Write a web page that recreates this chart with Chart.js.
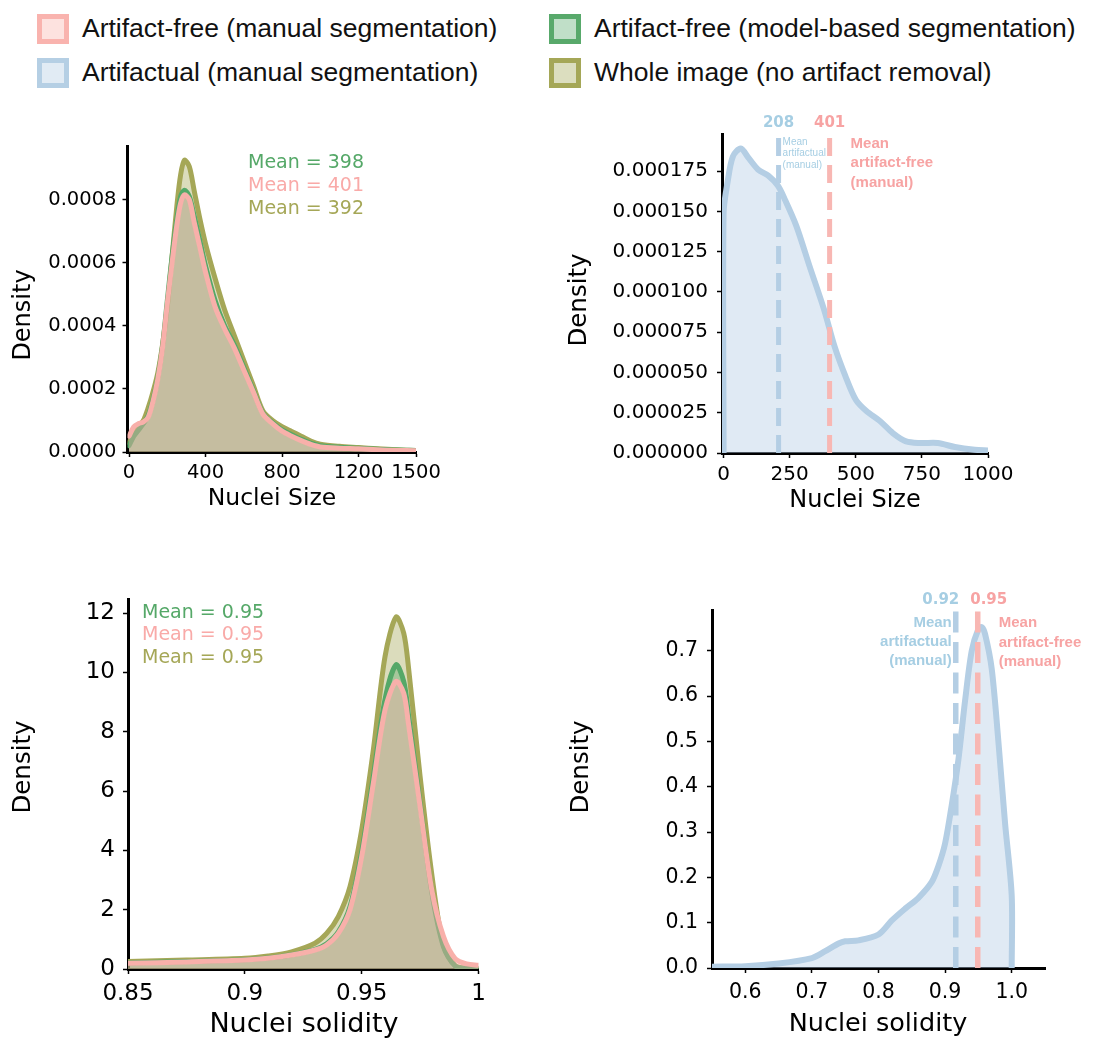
<!DOCTYPE html>
<html>
<head>
<meta charset="utf-8">
<script src="https://cdn.jsdelivr.net/npm/chart.js@4.4.1/dist/chart.umd.min.js"></script>
<style>
  body { margin: 0; background: #fff; }
  #page { position: relative; width: 1105px; height: 1039px; overflow: hidden; background: #fff; }
  canvas { position: absolute; }
  .leg { position: absolute; font-family: "Liberation Sans", Arial, sans-serif; font-size: 26.5px; color: #111; white-space: nowrap; line-height: 30px; }
  .patch { position: absolute; width: 32px; height: 30px; box-sizing: border-box; border: 5px solid; }
</style>
</head>
<body>
<div id="page">
  <canvas id="c1" width="552" height="440" style="left:0;top:100px;width:552px;height:440px"></canvas>
  <canvas id="c2" width="553" height="440" style="left:552px;top:100px;width:553px;height:440px"></canvas>
  <canvas id="c3" width="552" height="479" style="left:0;top:560px;width:552px;height:479px"></canvas>
  <canvas id="c4" width="553" height="479" style="left:552px;top:560px;width:553px;height:479px"></canvas>
</div>
<script>
// nuclei size, artifact-free / whole image densities
const sizeX = [0, 25, 50, 75, 100, 125, 150, 175, 200, 225, 250, 270, 290, 315, 340, 370, 400, 450, 500, 550, 600, 650, 700, 750, 800, 850, 900, 950, 1000, 1100, 1200, 1300, 1400, 1500];
const sizeManual = [0.00005, 0.00008, 0.00009, 0.000095, 0.00011, 0.00016, 0.00023, 0.00033, 0.00047, 0.0006, 0.00072, 0.00079, 0.000815, 0.0008, 0.00073, 0.00065, 0.00057, 0.00046, 0.00039, 0.00033, 0.00026, 0.00019, 0.00012, 0.00009, 0.000066, 0.00005, 0.000036, 0.000024, 0.000016, 0.000012, 0.00001, 0.000007, 0.000005, 0.000004];
const sizeModel = [0.00002, 0.00005, 0.00007, 0.00009, 0.000115, 0.000165, 0.000235, 0.000335, 0.00048, 0.00062, 0.00074, 0.00081, 0.00083, 0.00081, 0.00075, 0.00067, 0.00059, 0.00048, 0.0004, 0.00034, 0.000268, 0.000195, 0.000123, 0.000093, 0.00007, 0.000055, 0.00004, 0.000028, 0.00002, 0.000015, 0.000012, 0.000009, 0.000006, 0.000005];
const sizeWhole = [0.00003, 0.00006, 0.00008, 0.0001, 0.00014, 0.00019, 0.00025, 0.00034, 0.00046, 0.00062, 0.00078, 0.00088, 0.000925, 0.000905, 0.00083, 0.00074, 0.00066, 0.00055, 0.00045, 0.00037, 0.00029, 0.00021, 0.00013, 0.0001, 0.00008, 0.000065, 0.00005, 0.000035, 0.000025, 0.000018, 0.000014, 0.00001, 0.000007, 0.000005];
const sizeMeans = [401, 398, 392]; // manual, model-based, whole image

// nuclei size, artifactual
const sizeArtX = [0, 0, 15, 35, 65, 95, 130, 170, 205, 230, 275, 325, 380, 420, 460, 500, 540, 590, 640, 690, 745, 810, 875, 950, 1000];
const sizeArtifactual = [0, 0.000149, 0.000168, 0.000184, 0.000189, 0.000183, 0.000176, 0.000172, 0.000166, 0.000158, 0.000141, 0.000116, 0.000089, 0.000066, 0.000048, 0.000033, 0.000026, 0.00002, 0.0000124, 0.0000072, 0.0000062, 0.0000062, 0.0000037, 0.000002, 0.0000015];
const sizeArtMeans = [208, 401]; // artifactual, artifact-free

// nuclei solidity, artifact-free / whole image densities
const solX = [0.85, 0.875, 0.9, 0.91, 0.92, 0.93, 0.935, 0.94, 0.945, 0.95, 0.955, 0.96, 0.9647, 0.968, 0.97, 0.975, 0.98, 0.985, 0.99, 0.995, 1.0];
const solManual = [0.19, 0.24, 0.3, 0.36, 0.47, 0.64, 0.81, 1.2, 2.0, 3.79, 6.27, 8.74, 9.7, 9.3, 8.29, 5.48, 2.67, 1.1, 0.35, 0.17, 0.13];
const solModel = [0.2, 0.25, 0.31, 0.37, 0.48, 0.66, 0.85, 1.25, 2.1, 3.95, 6.5, 9.1, 10.26, 9.7, 8.6, 5.6, 2.6, 0.75, 0.1, 0.02, 0];
const solWhole = [0.25, 0.3, 0.36, 0.44, 0.58, 0.87, 1.2, 1.77, 2.78, 4.69, 7.39, 10.54, 11.87, 11.33, 10.2, 6.5, 3.2, 0.8, 0.12, 0.02, 0];
const solMeans = [0.95, 0.95, 0.95];

// nuclei solidity, artifactual
const solArtX = [0.55, 0.6, 0.65, 0.7, 0.72, 0.74, 0.75, 0.77, 0.8, 0.82, 0.84, 0.86, 0.88, 0.89, 0.9, 0.91, 0.92, 0.93, 0.94, 0.95, 0.955, 0.96, 0.97, 0.98, 0.99, 1.0, 1.0];
const solArtifactual = [0.003, 0.004, 0.01, 0.022, 0.037, 0.054, 0.059, 0.061, 0.074, 0.105, 0.131, 0.155, 0.19, 0.225, 0.275, 0.36, 0.46, 0.59, 0.7, 0.748, 0.752, 0.737, 0.66, 0.5, 0.32, 0.16, 0];
const solArtMeans = [0.916, 0.949];

// tick labels
const sizeTicksA = [0, 400, 800, 1200, 1500];
const sizeDensTicksA = [0, 0.0002, 0.0004, 0.0006, 0.0008];
const sizeTicksB = [0, 250, 500, 750, 1000];
const sizeDensTicksB = [0, 0.000025, 0.00005, 0.000075, 0.0001, 0.000125, 0.00015, 0.000175];
const solTicksA = [0.85, 0.9, 0.95, 1];
const solDensTicksA = [0, 2, 4, 6, 8, 10, 12];
const solTicksB = [0.6, 0.7, 0.8, 0.9, 1.0];
const solDensTicksB = [0, 0.1, 0.2, 0.3, 0.4, 0.5, 0.6, 0.7];

const legendLabels = ['Artifact-free (manual segmentation)', 'Artifact-free (model-based segmentation)', 'Artifactual (manual segmentation)', 'Whole image (no artifact removal)'];

const PINK = '#f8b0aa', GREEN = '#55a868', OLIVE = '#a5a757', BLUE = '#b4cee4';
const PINK_FILL = 'rgba(248,176,170,0.4)', GREEN_FILL = 'rgba(85,168,104,0.4)', OLIVE_FILL = 'rgba(165,167,87,0.4)', BLUE_FILL = 'rgba(180,206,228,0.42)';
const BLUE_TXT = '#a6cee3', PINK_TXT = '#f7a3a3';

// legend
const page = document.getElementById('page');
const legendStyle = [
  { left: 37, top: 14, border: '#f9b3ae', fill: '#fde2df' },
  { left: 549, top: 14, border: '#58a96b', fill: '#c0dfc8' },
  { left: 37, top: 58, border: '#b5cfe4', fill: '#e1ebf4' },
  { left: 549, top: 58, border: '#a5a757', fill: '#dcdebf' }
];
legendLabels.forEach(function (txt, i) {
  const s = legendStyle[i];
  const p = document.createElement('div');
  p.className = 'patch';
  p.style.left = s.left + 'px'; p.style.top = s.top + 'px';
  p.style.borderColor = s.border; p.style.background = s.fill;
  page.appendChild(p);
  const t = document.createElement('div');
  t.className = 'leg';
  t.style.left = (s.left + 45) + 'px'; t.style.top = (s.top - 1) + 'px';
  t.textContent = txt;
  page.appendChild(t);
});

function pts(xs, ys) {
  return xs.map(function (x, i) { return { x: x, y: ys[i] }; });
}

function kde(label, xs, ys, color, fill, width) {
  return {
    label: label, data: pts(xs, ys),
    borderColor: color, backgroundColor: fill, borderWidth: width,
    fill: 'origin', pointRadius: 0, tension: 0.3,
    borderJoinStyle: 'round', borderCapStyle: 'round'
  };
}

function axis(o, horizontal) {
  return {
    type: 'linear', min: o.min, max: o.max, z: 1,
    border: { display: true, color: '#000', width: 3 },
    grid: { display: true, drawOnChartArea: false, drawTicks: true, tickLength: 5, tickWidth: 1.5, tickColor: '#000' },
    ticks: { color: '#000', font: { family: 'DejaVu Sans', size: o.font }, padding: o.pad, maxRotation: 0, autoSkip: false, callback: o.fmt },
    afterBuildTicks: function (a) { a.ticks = o.ticks.map(function (v) { return { value: v }; }); },
    afterFit: function (a) {
      if (horizontal) a.height = o.size; else a.width = o.size;
      a.paddingLeft = 0; a.paddingRight = 0; a.paddingTop = 0; a.paddingBottom = 0;
    }
  };
}

// extra drawings per canvas: mean lines, texts, axis titles (page coords)
const extras = {};

const extrasPlugin = {
  id: 'extras',
  afterDatasetsDraw: function (chart) {
    const ex = extras[chart.canvas.id];
    const ctx = chart.ctx, area = chart.chartArea;
    (ex.vlines || []).forEach(function (l) {
      const x = chart.scales.x.getPixelForValue(l.value);
      ctx.save();
      ctx.strokeStyle = l.color; ctx.lineWidth = l.width; ctx.setLineDash(l.dash);
      ctx.beginPath(); ctx.moveTo(x, area.bottom); ctx.lineTo(x, area.top); ctx.stroke();
      ctx.restore();
    });
  },
  afterDraw: function (chart) {
    const ex = extras[chart.canvas.id];
    const ctx = chart.ctx;
    (ex.texts || []).forEach(function (t) {
      ctx.save();
      ctx.font = t.font; ctx.fillStyle = t.color || '#000';
      ctx.textAlign = t.align || 'left'; ctx.textBaseline = 'middle';
      let x = t.x - ex.offset[0];
      if (t.at !== undefined) x = chart.scales.x.getPixelForValue(t.at) + t.dx;
      ctx.translate(x, t.y - ex.offset[1]);
      if (t.rotate) ctx.rotate(t.rotate);
      ctx.fillText(t.text, 0, 0);
      ctx.restore();
    });
  }
};

function makeChart(id, datasets, xo, yo, pad) {
  return new Chart(document.getElementById(id), {
    type: 'line',
    data: { datasets: datasets },
    options: {
      responsive: false, animation: false, devicePixelRatio: 1,
      layout: { autoPadding: false, padding: { top: pad.top, right: pad.right, bottom: 0, left: 0 } },
      plugins: { legend: { display: false }, tooltip: { enabled: false } },
      scales: { x: axis(xo, true), y: axis(yo, false) }
    },
    plugins: [extrasPlugin]
  });
}

const UP = -Math.PI / 2;

// --- top left: nuclei size ---
extras.c1 = {
  offset: [0, 100],
  texts: [
    { text: 'Mean = ' + sizeMeans[1], x: 248, y: 163.5, font: '19px "DejaVu Sans"', color: GREEN },
    { text: 'Mean = ' + sizeMeans[0], x: 248, y: 186, font: '19px "DejaVu Sans"', color: '#f9aaa8' },
    { text: 'Mean = ' + sizeMeans[2], x: 248, y: 209.5, font: '19px "DejaVu Sans"', color: OLIVE },
    { text: 'Density', x: 24, y: 315, font: '24px "DejaVu Sans"', align: 'center', rotate: UP },
    { text: 'Nuclei Size', x: 272, y: 498.5, font: '23.5px "DejaVu Sans"', align: 'center' }
  ]
};
makeChart('c1', [
  kde('Artifact-free (manual segmentation)', sizeX, sizeManual, PINK, PINK_FILL, 5),
  kde('Artifact-free (model-based segmentation)', sizeX, sizeModel, GREEN, GREEN_FILL, 5),
  kde('Whole image (no artifact removal)', sizeX, sizeWhole, OLIVE, OLIVE_FILL, 5)
],
  { min: -8, max: 1500, ticks: sizeTicksA, font: 19.5, pad: 4, size: 88, fmt: function (v) { return String(v); } },
  { min: 0, max: 0.00097, ticks: sizeDensTicksA, font: 19.5, pad: 6, size: 127.5, fmt: function (v) { return v.toFixed(4); } },
  { top: 46, right: 136 });

// --- top right: nuclei size, artifactual ---
extras.c2 = {
  offset: [552, 100],
  vlines: [
    { value: sizeArtMeans[0], color: BLUE, width: 5, dash: [18, 9] },
    { value: sizeArtMeans[1], color: '#f8b7b3', width: 5, dash: [18, 9] }
  ],
  texts: [
    { text: String(sizeArtMeans[0]), at: sizeArtMeans[0], dx: 0, y: 123.5, font: 'bold 15px "DejaVu Sans"', color: BLUE_TXT, align: 'center' },
    { text: String(sizeArtMeans[1]), at: sizeArtMeans[1], dx: 0, y: 123.5, font: 'bold 15px "DejaVu Sans"', color: PINK_TXT, align: 'center' },
    { text: 'Mean', at: sizeArtMeans[0], dx: 4, y: 142.5, font: '10px "Liberation Sans"', color: BLUE_TXT },
    { text: 'artifactual', at: sizeArtMeans[0], dx: 4, y: 153.5, font: '10px "Liberation Sans"', color: BLUE_TXT },
    { text: '(manual)', at: sizeArtMeans[0], dx: 4, y: 165, font: '10px "Liberation Sans"', color: BLUE_TXT },
    { text: 'Mean', at: sizeArtMeans[1], dx: 21, y: 144, font: 'bold 15px "Liberation Sans"', color: PINK_TXT },
    { text: 'artifact-free', at: sizeArtMeans[1], dx: 21, y: 163, font: 'bold 15px "Liberation Sans"', color: PINK_TXT },
    { text: '(manual)', at: sizeArtMeans[1], dx: 21, y: 183, font: 'bold 15px "Liberation Sans"', color: PINK_TXT },
    { text: 'Density', x: 580, y: 300, font: '24.5px "DejaVu Sans"', align: 'center', rotate: UP },
    { text: 'Nuclei Size', x: 855, y: 501, font: '24px "DejaVu Sans"', align: 'center' }
  ]
};
makeChart('c2', [
  kde('Artifactual (manual segmentation)', sizeArtX, sizeArtifactual, BLUE, BLUE_FILL, 6)
],
  { min: -6, max: 1000, ticks: sizeTicksB, font: 20, pad: 4.5, size: 87, fmt: function (v) { return String(v); } },
  { min: 0, max: 0.000198, ticks: sizeDensTicksB, font: 20, pad: 9, size: 170, fmt: function (v) { return v.toFixed(6); } },
  { top: 34, right: 117 });

// --- bottom left: nuclei solidity ---
extras.c3 = {
  offset: [0, 560],
  texts: [
    { text: 'Mean = ' + solMeans[1].toFixed(2), x: 142, y: 613, font: '19px "DejaVu Sans"', color: GREEN },
    { text: 'Mean = ' + solMeans[0].toFixed(2), x: 142, y: 635.5, font: '19px "DejaVu Sans"', color: '#f9aaa8' },
    { text: 'Mean = ' + solMeans[2].toFixed(2), x: 142, y: 658, font: '19px "DejaVu Sans"', color: OLIVE },
    { text: 'Density', x: 24, y: 767, font: '24.5px "DejaVu Sans"', align: 'center', rotate: UP },
    { text: 'Nuclei solidity', x: 304, y: 1025, font: '27px "DejaVu Sans"', align: 'center' }
  ]
};
makeChart('c3', [
  kde('Artifact-free (manual segmentation)', solX, solManual, PINK, PINK_FILL, 5),
  kde('Artifact-free (model-based segmentation)', solX, solModel, GREEN, GREEN_FILL, 5),
  kde('Whole image (no artifact removal)', solX, solWhole, OLIVE, OLIVE_FILL, 5)
],
  { min: 0.85, max: 1.0, ticks: solTicksA, font: 23, pad: 6, size: 70, fmt: function (v) { return String(v); } },
  { min: 0, max: 12.48, ticks: solDensTicksA, font: 23, pad: 8, size: 128, fmt: function (v) { return String(v); } },
  { top: 39, right: 73.5 });

// --- bottom right: nuclei solidity, artifactual ---
extras.c4 = {
  offset: [552, 560],
  vlines: [
    { value: solArtMeans[0], color: BLUE, width: 5.5, dash: [21, 9.5] },
    { value: solArtMeans[1], color: '#f8b7b3', width: 5.5, dash: [21, 9.5] }
  ],
  texts: [
    { text: solArtMeans[0].toFixed(2), at: solArtMeans[0], dx: -15, y: 600.5, font: 'bold 15px "DejaVu Sans"', color: BLUE_TXT, align: 'center' },
    { text: solArtMeans[1].toFixed(2), at: solArtMeans[1], dx: 11, y: 600.5, font: 'bold 15px "DejaVu Sans"', color: PINK_TXT, align: 'center' },
    { text: 'Mean', at: solArtMeans[0], dx: -4, y: 622.5, font: 'bold 15px "Liberation Sans"', color: BLUE_TXT, align: 'right' },
    { text: 'artifactual', at: solArtMeans[0], dx: -4, y: 642, font: 'bold 15px "Liberation Sans"', color: BLUE_TXT, align: 'right' },
    { text: '(manual)', at: solArtMeans[0], dx: -4, y: 661, font: 'bold 15px "Liberation Sans"', color: BLUE_TXT, align: 'right' },
    { text: 'Mean', at: solArtMeans[1], dx: 21, y: 623, font: 'bold 15px "Liberation Sans"', color: PINK_TXT },
    { text: 'artifact-free', at: solArtMeans[1], dx: 21, y: 642.5, font: 'bold 15px "Liberation Sans"', color: PINK_TXT },
    { text: '(manual)', at: solArtMeans[1], dx: 21, y: 662, font: 'bold 15px "Liberation Sans"', color: PINK_TXT },
    { text: 'Density', x: 582, y: 767, font: '24.5px "DejaVu Sans"', align: 'center', rotate: UP },
    { text: 'Nuclei solidity', x: 878, y: 1024, font: '25.5px "DejaVu Sans"', align: 'center' }
  ]
};
makeChart('c4', [
  kde('Artifactual (manual segmentation)', solArtX, solArtifactual, BLUE, BLUE_FILL, 6)
],
  { min: 0.55, max: 1.05, ticks: solTicksB, font: 20.5, pad: 7, size: 71, fmt: function (v) { return v.toFixed(1); } },
  { min: 0, max: 0.79, ticks: solDensTicksB, font: 20.5, pad: 9, size: 160, fmt: function (v) { return v.toFixed(1); } },
  { top: 50, right: 60 });
</script>
</body>
</html>
